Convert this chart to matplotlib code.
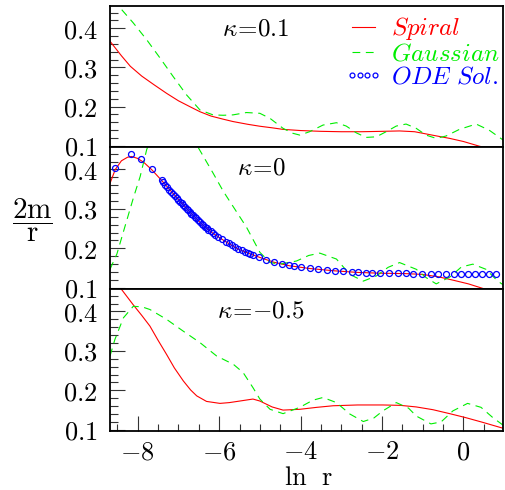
import matplotlib
matplotlib.use("Agg")
import matplotlib.pyplot as plt
from matplotlib.ticker import MultipleLocator

plt.rcParams['mathtext.fontset'] = 'cm'
plt.rcParams['font.family'] = 'DejaVu Serif'

# ---- data ----
# kappa = 0.1
spiral_x1 = [-8.68, -8.4, -8.18, -7.9, -7.6, -7.29, -7.0, -6.7, -6.47, -6.2, -5.9, -5.66,
             -5.3, -5.0, -4.7, -4.43, -4.0, -3.5, -3.0, -2.5, -2.0, -1.57, -1.2, -1.0,
             -0.7, -0.34, 0.0, 0.39, 0.7, 0.97]
spiral_y1 = [0.367, 0.330, 0.303, 0.278, 0.256, 0.234, 0.215, 0.199, 0.187, 0.176, 0.168, 0.162,
             0.155, 0.150, 0.146, 0.142, 0.139, 0.137, 0.136, 0.136, 0.137, 0.138, 0.136, 0.132,
             0.126, 0.119, 0.111, 0.099, 0.092, 0.086]
gauss_x1 = [-8.68, -8.48, -8.11, -7.78, -7.45, -7.13, -6.80, -6.47, -6.15, -5.9, -5.66, -5.33,
            -5.0, -4.75, -4.43, -4.19, -4.02, -3.78, -3.45, -3.12, -2.88, -2.63, -2.39, -2.14,
            -1.90, -1.65, -1.41, -1.16, -0.92, -0.67, -0.43, -0.10, 0.31, 0.63, 0.97]
gauss_y1 = [0.49, 0.458, 0.414, 0.371, 0.324, 0.277, 0.230, 0.1915, 0.179, 0.178, 0.179, 0.185,
            0.183, 0.170, 0.1446, 0.132, 0.1274, 0.136, 0.153, 0.159, 0.1505, 0.133, 0.1215, 0.123,
            0.136, 0.1505, 0.1556, 0.1446, 0.1274, 0.119, 0.125, 0.142, 0.1556, 0.140, 0.115]

# kappa = 0
spiral_x2 = [-8.68, -8.55, -8.4, -8.25, -8.15, -8.0, -7.85, -7.66, -7.41, -7.13, -6.88, -6.64,
             -6.39, -6.15, -5.84, -5.53, -5.24, -5.0, -4.66, -4.28, -3.78, -3.16, -2.59, -2.04,
             -1.42, -1.01, -0.62, -0.24, 0.12, 0.55, 0.97]
spiral_y2 = [0.365, 0.40, 0.422, 0.431, 0.433, 0.428, 0.418, 0.40, 0.372, 0.339, 0.31, 0.284,
             0.258, 0.238, 0.217, 0.198, 0.186, 0.177, 0.165, 0.156, 0.149, 0.143, 0.139, 0.137,
             0.136, 0.134, 0.128, 0.119, 0.110, 0.096, 0.084]
gauss_x2 = [-8.68, -8.51, -8.3, -8.1, -7.94, -7.78, -7.5, -7.15, -6.8, -6.51, -6.15, -5.9,
            -5.65, -5.33, -5.0, -4.75, -4.51, -4.10, -3.80, -3.53, -3.12, -2.79, -2.46, -2.14,
            -1.85, -1.57, -1.16, -0.92, -0.67, -0.34, -0.05, 0.23, 0.55, 0.84, 0.97]
gauss_y2 = [0.147, 0.186, 0.26, 0.33, 0.382, 0.45, 0.53, 0.56, 0.52, 0.455, 0.391, 0.345,
            0.305, 0.254, 0.19, 0.164, 0.160, 0.168, 0.182, 0.188, 0.173, 0.134, 0.117, 0.13,
            0.152, 0.164, 0.147, 0.126, 0.110, 0.127, 0.153, 0.160, 0.147, 0.117, 0.108]
ode_x = [-8.55, -8.17, -7.93, -7.64, -7.41, -7.37, -7.32, -7.27, -7.22, -7.17, -7.13, -7.08,
         -7.04, -7.00, -6.96, -6.92, -6.88, -6.84, -6.80, -6.76, -6.72, -6.68, -6.64, -6.60,
         -6.56, -6.51, -6.47, -6.43, -6.39, -6.35, -6.31, -6.27, -6.21, -6.15, -6.09, -6.03,
         -5.94, -5.84, -5.76, -5.68, -5.60, -5.53, -5.45, -5.37, -5.30, -5.24, -5.17, -5.02,
         -4.84, -4.66, -4.46, -4.28, -4.16, -3.98, -3.78, -3.57, -3.35, -3.16, -2.96, -2.75,
         -2.59, -2.40, -2.24, -2.04, -1.83, -1.61, -1.42, -1.24, -1.01, -0.81, -0.62, -0.43,
         -0.24, -0.06, 0.12, 0.29, 0.45, 0.62, 0.80]
ode_y = [0.404, 0.438, 0.427, 0.401, 0.374, 0.368, 0.361, 0.355, 0.349, 0.344, 0.339, 0.333,
         0.327, 0.322, 0.318, 0.314, 0.310, 0.305, 0.301, 0.297, 0.293, 0.288, 0.284, 0.280,
         0.276, 0.271, 0.267, 0.262, 0.258, 0.255, 0.251, 0.247, 0.243, 0.238, 0.234, 0.230,
         0.224, 0.217, 0.213, 0.209, 0.203, 0.198, 0.195, 0.1915, 0.188, 0.1856, 0.183, 0.178,
         0.171, 0.165, 0.1615, 0.158, 0.1556, 0.153, 0.1505, 0.148, 0.1454, 0.1436, 0.142, 0.141,
         0.1395, 0.1385, 0.1385, 0.1377, 0.1377, 0.137, 0.137, 0.136, 0.136, 0.136, 0.136, 0.136,
         0.136, 0.136, 0.136, 0.136, 0.136, 0.136, 0.136]

# kappa = -0.5
spiral_x3 = [-8.68, -8.5, -8.39, -8.11, -7.90, -7.70, -7.5, -7.29, -7.1, -6.88, -6.7, -6.55,
             -6.31, -5.98, -5.75, -5.49, -5.17, -5.0, -4.7, -4.43, -4.02, -3.6, -3.2, -2.6,
             -1.98, -1.55, -1.16, -0.75, -0.34, 0.05, 0.47, 0.97]
spiral_y3 = [0.50, 0.475, 0.455, 0.417, 0.39, 0.363, 0.327, 0.291, 0.257, 0.224, 0.201, 0.186,
             0.172, 0.167, 0.169, 0.173, 0.178, 0.173, 0.158, 0.150, 0.152, 0.157, 0.161, 0.163,
             0.163, 0.162, 0.158, 0.151, 0.141, 0.131, 0.119, 0.104]
gauss_x3 = [-8.68, -8.56, -8.35, -8.11, -7.90, -7.70, -7.29, -6.88, -6.47, -6.06, -5.65, -5.41,
            -5.17, -5.0, -4.75, -4.43, -4.02, -3.7, -3.45, -3.12, -2.79, -2.46, -2.2, -1.98,
            -1.65, -1.35, -1.16, -0.80, -0.55, -0.26, 0.1, 0.43, 0.72, 0.97]
gauss_y3 = [0.287, 0.329, 0.384, 0.413, 0.412, 0.405, 0.380, 0.350, 0.321, 0.287, 0.266, 0.245,
            0.207, 0.178, 0.152, 0.141, 0.157, 0.175, 0.182, 0.169, 0.14, 0.121, 0.13, 0.148,
            0.169, 0.155, 0.135, 0.115, 0.12, 0.148, 0.167, 0.157, 0.131, 0.112]

kappa_labels = [r'$\kappa\!=\!0.1$', r'$\kappa\!=\!0$', r'$\kappa\!=\!{-}0.5$']
y_ticks = [0.1, 0.2, 0.3, 0.4]
x_ticks = [-8, -6, -4, -2, 0]

RED = '#ff0000'
GREEN = '#00ee00'
BLUE = '#0000ff'

fig = plt.figure(figsize=(5.05, 4.90), dpi=100)
W, H = 505.0, 490.0
left, right = 110 / W, 503 / W
edges = [6, 147, 289, 431]
axes = []
for i in range(3):
    bot = 1 - edges[i + 1] / H
    top = 1 - edges[i] / H
    axes.append(fig.add_axes([left, bot, right - left, top - bot]))

series = [
    (spiral_x1, spiral_y1, gauss_x1, gauss_y1),
    (spiral_x2, spiral_y2, gauss_x2, gauss_y2),
    (spiral_x3, spiral_y3, gauss_x3, gauss_y3),
]
kappa_pos = [(0.285, 0.84), (0.322, 0.85), (0.272, 0.845)]

for i, ax in enumerate(axes):
    sx, sy, gx, gy = series[i]
    ax.plot(sx, sy, color=RED, lw=0.8, label=r'$\mathit{Spiral}$')
    ax.plot(gx, gy, color=GREEN, lw=0.8, linestyle=(0, (7, 5)), label=r'$\mathit{Gaussian}$')
    if i == 1:
        ax.plot(ode_x, ode_y, linestyle='none', marker='o', markersize=4.3, mfc='none',
                mec=BLUE, mew=0.9)
    ax.set_xlim(-8.68, 0.97)
    ax.set_ylim(0.097, 0.457)
    ax.set_yticks(y_ticks)
    ax.set_yticklabels(['$%.1f$' % v for v in y_ticks], fontsize=19)
    ax.yaxis.set_minor_locator(MultipleLocator(0.02))
    ax.tick_params(axis='y', which='both', direction='in', right=False, pad=9, color='#333333')
    ax.tick_params(axis='y', which='major', length=11, width=0.8)
    ax.tick_params(axis='y', which='minor', length=6, width=0.8)
    ax.set_xticks(x_ticks)
    ax.xaxis.set_minor_locator(MultipleLocator(0.5))
    if i < 2:
        ax.tick_params(axis='x', which='both', bottom=False, top=False, labelbottom=False)
    else:
        ax.set_xticklabels(['$%d$' % v for v in x_ticks], fontsize=19)
        ax.tick_params(axis='x', which='both', direction='in', top=False, pad=6, color='#333333')
        ax.tick_params(axis='x', which='major', length=11, width=0.8)
        ax.tick_params(axis='x', which='minor', length=5, width=0.8)
    for s in ax.spines.values():
        s.set_linewidth(1.3)
    ax.text(kappa_pos[i][0], kappa_pos[i][1], kappa_labels[i], transform=ax.transAxes,
            fontsize=18, va='center', ha='left')

# legend in top panel
h_ode, = axes[0].plot([], [], linestyle='none', marker='o', markersize=3.5, mfc='none',
                      mec=BLUE, mew=0.9, label=r'$\mathit{ODE\ Sol.}$')
leg = axes[0].legend(loc='upper right', bbox_to_anchor=(1.03, 1.04), frameon=False, fontsize=18,
                     handlelength=1.5, handletextpad=0.35, labelspacing=0.0, numpoints=4,
                     borderaxespad=0.2)
for txt, c in zip(leg.get_texts(), [RED, GREEN, BLUE]):
    txt.set_color(c)

fig.text(308 / W, 1 - 485 / H, r'$\mathrm{ln\ \ r}$', fontsize=19, ha='center', va='baseline')
fig.text(32 / W, 1 - 220 / H, r'$\dfrac{\mathrm{2m}}{\mathrm{r}}$', fontsize=21,
         ha='center', va='center')

fig.savefig('out.png', dpi=100)
